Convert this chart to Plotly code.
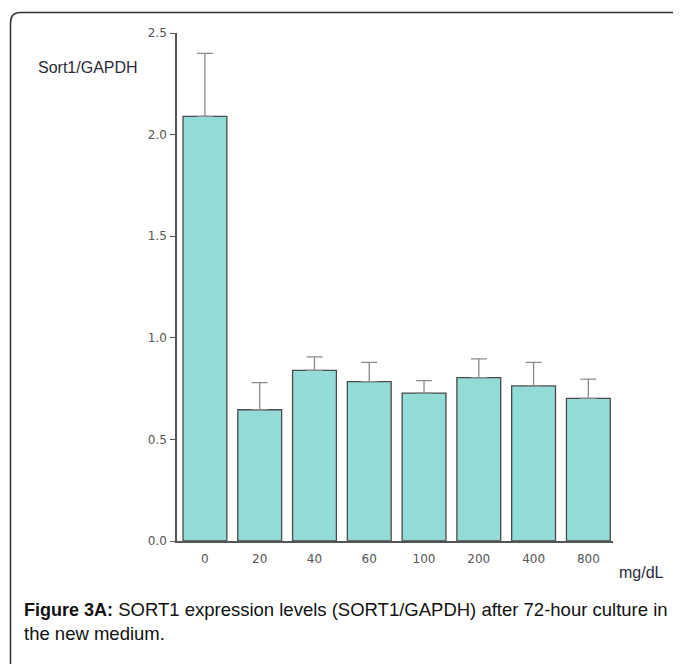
import plotly.graph_objects as go

categories = ["0", "20", "40", "60", "100", "200", "400", "800"]
values = [2.09, 0.646, 0.840, 0.784, 0.728, 0.804, 0.763, 0.702]
errors = [0.31, 0.133, 0.066, 0.095, 0.061, 0.092, 0.116, 0.095]
y_ticks = [0.0, 0.5, 1.0, 1.5, 2.0, 2.5]
y_tick_labels = ["0.0", "0.5", "1.0", "1.5", "2.0", "2.5"]

# page body has an 8px margin; compensate so window coords match
OFF = 8
WIN_W, WIN_H = 681, 664
W, H = WIN_W - OFF, WIN_H - OFF
L, R, T, B = 177, 613, 33, 541   # plot area in window pixels

def px(x):
    return (x - L) / (R - L)

def py(y):
    return (B - y) / (B - T)

fig = go.Figure()
fig.add_trace(go.Bar(
    x=list(range(len(categories))),
    y=values,
    width=0.8,
    marker=dict(color="#93dbd7", line=dict(color="#4a4a4a", width=1.3)),
    error_y=dict(type="data", array=errors, symmetric=False, arrayminus=[0]*len(errors),
                 color="#8a8a8a", thickness=1.3, width=8),
    showlegend=False,
))

axis_font = dict(family="DejaVu Sans, sans-serif", size=12, color="#555555")

fig.update_layout(
    width=W, height=H,
    margin=dict(l=L - OFF, r=WIN_W - R, t=T - OFF, b=WIN_H - B, pad=0),
    paper_bgcolor="white", plot_bgcolor="white",
    xaxis=dict(
        range=[-0.51, 7.45],
        tickmode="array",
        tickvals=list(range(len(categories))),
        ticktext=categories,
        showline=True, linecolor="#555555", linewidth=1.5,
        ticks="", showgrid=False, zeroline=False,
        tickfont=axis_font,
        ticklabelstandoff=6,
    ),
    yaxis=dict(
        range=[0, 2.5],
        tickmode="array",
        tickvals=y_ticks,
        ticktext=y_tick_labels,
        showline=True, linecolor="#555555", linewidth=1.5,
        ticks="outside", ticklen=5, tickcolor="#555555", tickwidth=1,
        showgrid=False, zeroline=False,
        tickfont=axis_font,
        ticklabelstandoff=1,
    ),
    font=dict(family="Liberation Sans, Arial, sans-serif"),
)

# figure frame (rounded top-left corner)
x0, y0 = px(10.5), py(12.5)
xr, yb = px(700), py(700)
rx = 10 / (R - L)
ry = 10 / (B - T)
fig.add_shape(
    type="path", xref="paper", yref="paper",
    path=f"M {x0},{yb} L {x0},{y0 - ry} Q {x0},{y0} {x0 + rx},{y0} L {xr},{y0}",
    line=dict(color="#333333", width=1.5),
)

fig.add_annotation(
    x=px(36), y=py(68), xref="paper", yref="paper",
    text="Sort1/GAPDH", showarrow=False, xanchor="left", yanchor="middle",
    font=dict(family="Liberation Sans, Arial, sans-serif", size=16, color="#2a2a3a"),
)
fig.add_annotation(
    x=px(617), y=py(572), xref="paper", yref="paper",
    text="mg/dL", showarrow=False, xanchor="left", yanchor="middle",
    font=dict(family="Liberation Sans, Arial, sans-serif", size=16, color="#2a2a3a"),
)
fig.add_annotation(
    x=px(22), y=py(597), xref="paper", yref="paper",
    text=("<span style=\"font-size:18px\"><b>Figure 3A:</b></span> SORT1 expression levels "
          "(SORT1/GAPDH) after 72-hour culture in<br>the new medium."),
    showarrow=False, xanchor="left", yanchor="top", align="left",
    font=dict(family="Liberation Sans, Arial, sans-serif", size=18.5, color="#111111"),
)

fig.write_html("out.html")
